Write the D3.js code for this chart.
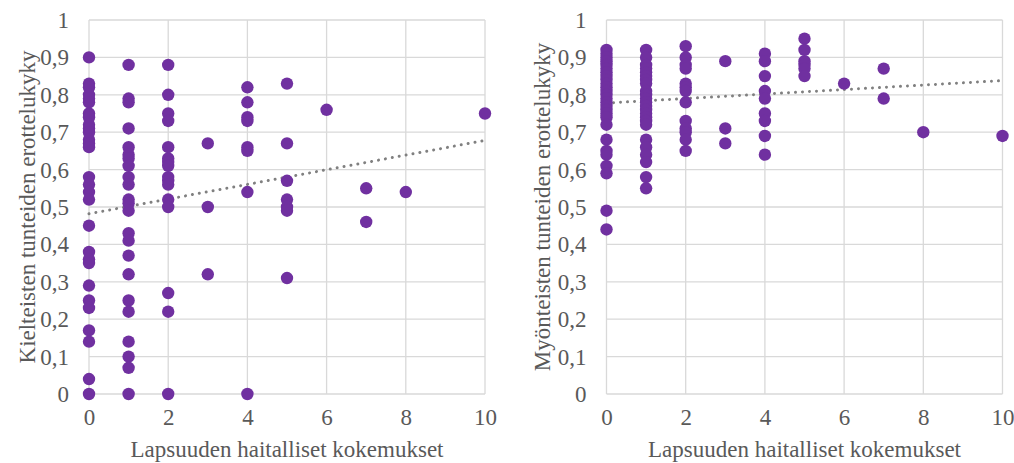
<!DOCTYPE html>
<html><head><meta charset="utf-8">
<script src="https://cdn.jsdelivr.net/npm/d3@7"></script>
<style>
html,body{margin:0;padding:0;background:#fff;}
svg{display:block;font-family:"Liberation Serif","Times New Roman",serif;}
</style></head>
<body>
<svg id="chart" width="1014" height="463"></svg>
<script>
// ---- data ----
const xTicks = [0, 2, 4, 6, 8, 10];
const yTicks = [0, 0.1, 0.2, 0.3, 0.4, 0.5, 0.6, 0.7, 0.8, 0.9, 1];
const xTitle = "Lapsuuden haitalliset kokemukset";
const leftTitle = "Kielteisten tunteiden erottelukyky";
const rightTitle = "Myönteisten tunteiden erottelukyky";

// negative emotion differentiation, grouped by count of adverse experiences
const negX0 = [0.90,0.83,0.82,0.80,0.79,0.78,0.75,0.74,0.72,0.71,0.70,0.68,0.67,0.66,0.58,0.56,0.54,0.52,0.45,0.38,0.36,0.35,0.29,0.25,0.23,0.17,0.14,0.04,0];
const negX1 = [0.88,0.79,0.78,0.71,0.66,0.64,0.63,0.61,0.58,0.56,0.52,0.51,0.49,0.43,0.41,0.37,0.32,0.25,0.22,0.14,0.10,0.07,0];
const negX2 = [0.88,0.80,0.75,0.73,0.66,0.63,0.62,0.61,0.58,0.57,0.56,0.52,0.50,0.27,0.22,0];
const negX3 = [0.67,0.50,0.32];
const negX4 = [0.82,0.78,0.74,0.73,0.66,0.65,0.54,0];
const negX5 = [0.83,0.67,0.57,0.52,0.50,0.49,0.31];
const negX6 = [0.76];
const negX7 = [0.55,0.46];
const negX8 = [0.54];
const negX10 = [0.75];
const negTrend = [[0, 0.482], [10, 0.678]];

// positive emotion differentiation
const posX0 = [0.92,0.91,0.90,0.89,0.88,0.87,0.86,0.85,0.84,0.83,0.82,0.81,0.80,0.79,0.78,0.77,0.76,0.75,0.74,0.72,0.68,0.65,0.64,0.61,0.59,0.49,0.44];
const posX1 = [0.92,0.90,0.88,0.87,0.86,0.85,0.84,0.83,0.81,0.80,0.79,0.78,0.77,0.76,0.75,0.74,0.73,0.72,0.68,0.66,0.64,0.62,0.58,0.55];
const posX2 = [0.93,0.90,0.88,0.87,0.83,0.82,0.81,0.78,0.73,0.71,0.70,0.68,0.65];
const posX3 = [0.89,0.71,0.67];
const posX4 = [0.91,0.89,0.85,0.81,0.79,0.75,0.73,0.69,0.64];
const posX5 = [0.95,0.92,0.89,0.88,0.87,0.85];
const posX6 = [0.83];
const posX7 = [0.87,0.79];
const posX8 = [0.70];
const posX10 = [0.69];
const posTrend = [[0, 0.778], [10, 0.838]];

const negGroups = [[0,negX0],[1,negX1],[2,negX2],[3,negX3],[4,negX4],[5,negX5],[6,negX6],[7,negX7],[8,negX8],[10,negX10]];
const posGroups = [[0,posX0],[1,posX1],[2,posX2],[3,posX3],[4,posX4],[5,posX5],[6,posX6],[7,posX7],[8,posX8],[10,posX10]];
const flat = g => g.flatMap(([x, vs]) => vs.map(v => ({x, y: v})));

// ---- drawing ----
const svg = d3.select("#chart");
const textColor = "#595959";
const gridColor = "#d9d9d9";
const dotColor = "#7030a0";
const fs = 23;

const y = d3.scaleLinear().domain([0, 1]).range([394, 20]);
const fmt = d => d3.format(".1~f")(d).replace(".", ",");

function panel(x0, x1, points, trend, title, titleX) {
  const x = d3.scaleLinear().domain([0, 10]).range([x0, x1]);
  const g = svg.append("g");

  g.append("g").selectAll("line").data(yTicks).join("line")
    .attr("x1", x(0)).attr("x2", x(10))
    .attr("y1", d => y(d)).attr("y2", d => y(d))
    .attr("stroke", gridColor).attr("stroke-width", 1.3);
  g.append("g").selectAll("line").data(xTicks).join("line")
    .attr("x1", d => x(d)).attr("x2", d => x(d))
    .attr("y1", y(0)).attr("y2", y(1))
    .attr("stroke", gridColor).attr("stroke-width", 1.3);

  const ya = g.append("g").attr("transform", `translate(${x(0) - 20},0)`)
    .call(d3.axisLeft(y).tickValues(yTicks).tickFormat(fmt).tickSize(0).tickPadding(0));
  ya.select(".domain").remove();
  ya.selectAll("text").attr("font-size", fs).attr("fill", textColor)
    .attr("font-family", "Liberation Serif").attr("dy", "0.33em");

  const xa = g.append("g").attr("transform", `translate(0,${y(0) + 14.5})`)
    .call(d3.axisBottom(x).tickValues(xTicks).tickFormat(d3.format("d")).tickSize(0).tickPadding(0));
  xa.select(".domain").remove();
  xa.selectAll("text").attr("font-size", fs).attr("fill", textColor)
    .attr("font-family", "Liberation Serif").attr("dy", "0.71em");

  g.append("path").datum(trend)
    .attr("d", d3.line().x(d => x(d[0])).y(d => y(d[1])))
    .attr("fill", "none").attr("stroke", "#808080").attr("stroke-width", 3)
    .attr("stroke-linecap", "round").attr("stroke-dasharray", "0.01 7");

  g.append("g").selectAll("circle").data(points).join("circle")
    .attr("cx", d => x(d.x)).attr("cy", d => y(d.y)).attr("r", 6.2)
    .attr("fill", dotColor);

  g.append("text").attr("x", (x(0) + x(10)) / 2).attr("y", 457)
    .attr("text-anchor", "middle").attr("font-size", fs).attr("fill", textColor)
    .text(xTitle);
  g.append("text")
    .attr("transform", `translate(${titleX},${(y(0) + y(1)) / 2}) rotate(-90)`)
    .attr("text-anchor", "middle").attr("font-size", fs).attr("fill", textColor)
    .text(title);
}

panel(89, 485, flat(negGroups), negTrend, leftTitle, 35);
panel(606.5, 1002.5, flat(posGroups), posTrend, rightTitle, 550);
</script>
</body></html>
